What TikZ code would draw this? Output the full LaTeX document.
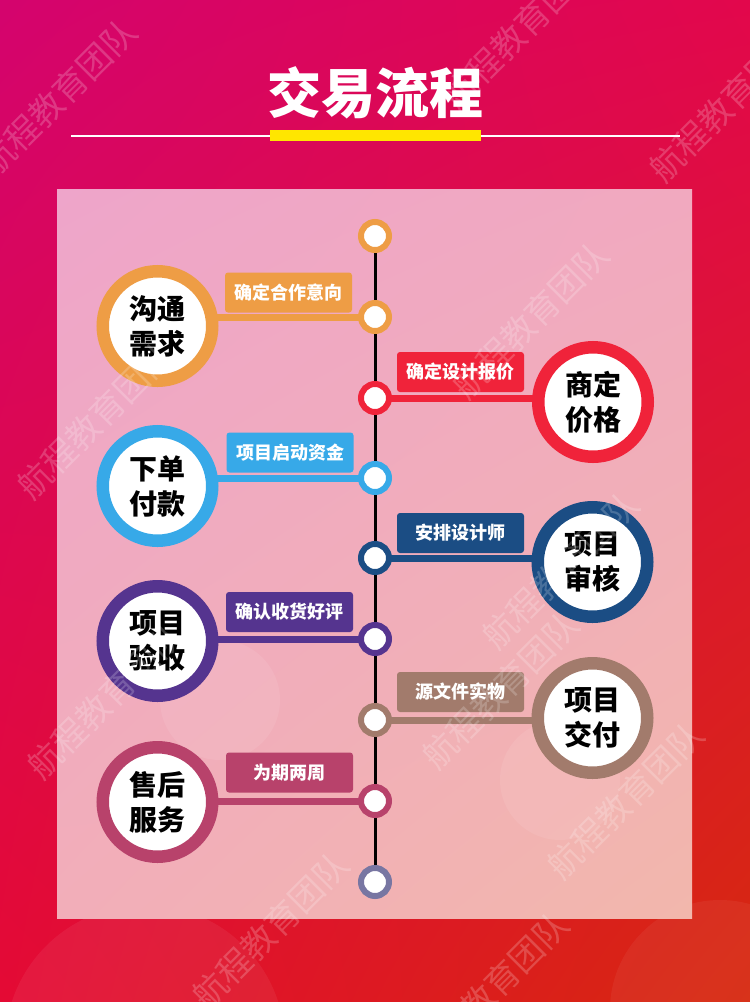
\documentclass[tikz,border=0pt]{standalone}
\usepackage{fontspec}
\setmainfont{Noto Sans CJK SC}
\usetikzlibrary{shadings}
\definecolor{cOr}{HTML}{EE9D45}
\definecolor{cRd}{HTML}{F0233A}
\definecolor{cBl}{HTML}{37A9E8}
\definecolor{cNv}{HTML}{1B4D84}
\definecolor{cPu}{HTML}{55348F}
\definecolor{cBr}{HTML}{A27B6C}
\definecolor{cCr}{HTML}{B8426B}
\definecolor{cGy}{HTML}{7876A2}
\definecolor{bgUL}{HTML}{D4046E}
\definecolor{bgUR}{HTML}{E2074C}
\definecolor{bgLL}{HTML}{E40A34}
\definecolor{bgLR}{HTML}{D6290E}
\definecolor{pUL}{HTML}{EEA5CA}
\definecolor{pUR}{HTML}{F1A9BF}
\definecolor{pLL}{HTML}{F2AEB9}
\definecolor{pLR}{HTML}{F2B7AC}
\definecolor{ttlYellow}{HTML}{FFE600}
\pgfdeclarelayer{back}
\pgfdeclarelayer{front}
\pgfsetlayers{back,main,front}
\tikzset{
  bigc/.style={circle, fill=white, draw=#1, line width=12.5pt, minimum size=109.5pt,
    inner sep=0pt, outer sep=0pt, align=center, text=black,
    font=\fontsize{28}{35}\selectfont\bfseries},
  dotc/.style={circle, fill=white, draw=#1, line width=6pt, minimum size=28pt,
    inner sep=0pt, outer sep=0pt},
  tag/.style={rectangle, rounded corners=3pt, fill=#1, text=white, minimum width=127pt,
    minimum height=40pt, inner sep=0pt, font=\fontsize{18}{20}\selectfont\bfseries},
  bar/.style={line width=7pt, draw=#1},
  wm/.style={text=white, text opacity=0.2, rotate=45, font=\fontsize{34}{34}\selectfont}
}
\begin{document}
\begin{tikzpicture}[x=1pt,y=-1pt]
\useasboundingbox (0,0) rectangle (750,1002);
\begin{pgfonlayer}{back}
  \shade[upper left=bgUL, upper right=bgUR, lower left=bgLL, lower right=bgLR] (0,0) rectangle (750,1002);
  \fill[white, opacity=0.06] (145,1045) circle (140pt);
  \fill[white, opacity=0.05] (720,1010) circle (110pt);
  \shade[upper left=pUL, upper right=pUR, lower left=pLL, lower right=pLR] (57,189) rectangle (692,918);
  \fill[white, opacity=0.08] (220,700) circle (60pt);
  \fill[white, opacity=0.08] (560,780) circle (60pt);
\end{pgfonlayer}

% title
\node[text=white, font=\fontsize{54}{60}\selectfont\bfseries] (title) at (375,93) {交易流程};
\draw[white, line width=1.5pt] (71,136) -- (680,136);
\fill[ttlYellow] (270,130) rectangle (481,141);

% timeline dots
\node[dotc=cOr] (s0) at (375,236) {};
\node[dotc=cOr] (s1) at (375,317) {};
\node[dotc=cRd] (s2) at (375,398) {};
\node[dotc=cBl] (s3) at (375,478) {};
\node[dotc=cNv] (s4) at (375,558) {};
\node[dotc=cPu] (s5) at (375,639) {};
\node[dotc=cBr] (s6) at (375,720) {};
\node[dotc=cCr] (s7) at (375,801) {};
\node[dotc=cGy] (s8) at (375,882) {};

% big circles
\node[bigc=cOr] (c1) at (157.5,326) {沟通\\需求};
\node[bigc=cRd] (c2) at (593,402) {商定\\价格};
\node[bigc=cBl] (c3) at (157.5,486) {下单\\付款};
\node[bigc=cNv] (c4) at (592.5,562) {项目\\审核};
\node[bigc=cPu] (c5) at (157.5,641) {项目\\验收};
\node[bigc=cBr] (c6) at (592.5,718) {项目\\交付};
\node[bigc=cCr] (c7) at (157.5,802) {售后\\服务};

% tags
\node[tag=cOr] (l1) at (288.5,292.5) {确定合作意向};
\node[tag=cRd] (l2) at (460.5,372) {确定设计报价};
\node[tag=cBl] (l3) at (290,452.5) {项目启动资金};
\node[tag=cNv] (l4) at (460.5,533) {安排设计师};
\node[tag=cPu] (l5) at (289.5,612) {确认收货好评};
\node[tag=cBr] (l6) at (460.5,692) {源文件实物};
\node[tag=cCr] (l7) at (289.5,772.5) {为期两周};

\begin{pgfonlayer}{back}
  \draw[line width=3pt, black] (s0.center) -- (s8.center);
  \draw[bar=cOr] (s1.center) -- (c1.center |- s1.center);
  \draw[bar=cRd] (s2.center) -- (c2.center |- s2.center);
  \draw[bar=cBl] (s3.center) -- (c3.center |- s3.center);
  \draw[bar=cNv] (s4.center) -- (c4.center |- s4.center);
  \draw[bar=cPu] (s5.center) -- (c5.center |- s5.center);
  \draw[bar=cBr] (s6.center) -- (c6.center |- s6.center);
  \draw[bar=cCr] (s7.center) -- (c7.center |- s7.center);
\end{pgfonlayer}

% watermarks
\begin{pgfonlayer}{front}
  \node[wm] (w1) at (58,97) {航程教育团队};
  \node[wm] (w2) at (520,30) {航程教育团队};
  \node[wm] (w3) at (727,103) {航程教育团队};
  \node[wm] (w4) at (95,420) {航程教育团队};
  \node[wm] (w5) at (530,320) {航程教育团队};
  \node[wm] (w6) at (560,570) {航程教育团队};
  \node[wm] (w7) at (105,700) {航程教育团队};
  \node[wm] (w8) at (500,690) {航程教育团队};
  \node[wm] (w9) at (270,930) {航程教育团队};
  \node[wm] (w10) at (625,800) {航程教育团队};
  \node[wm] (w11) at (490,990) {航程教育团队};
\end{pgfonlayer}
\end{tikzpicture}
\end{document}
